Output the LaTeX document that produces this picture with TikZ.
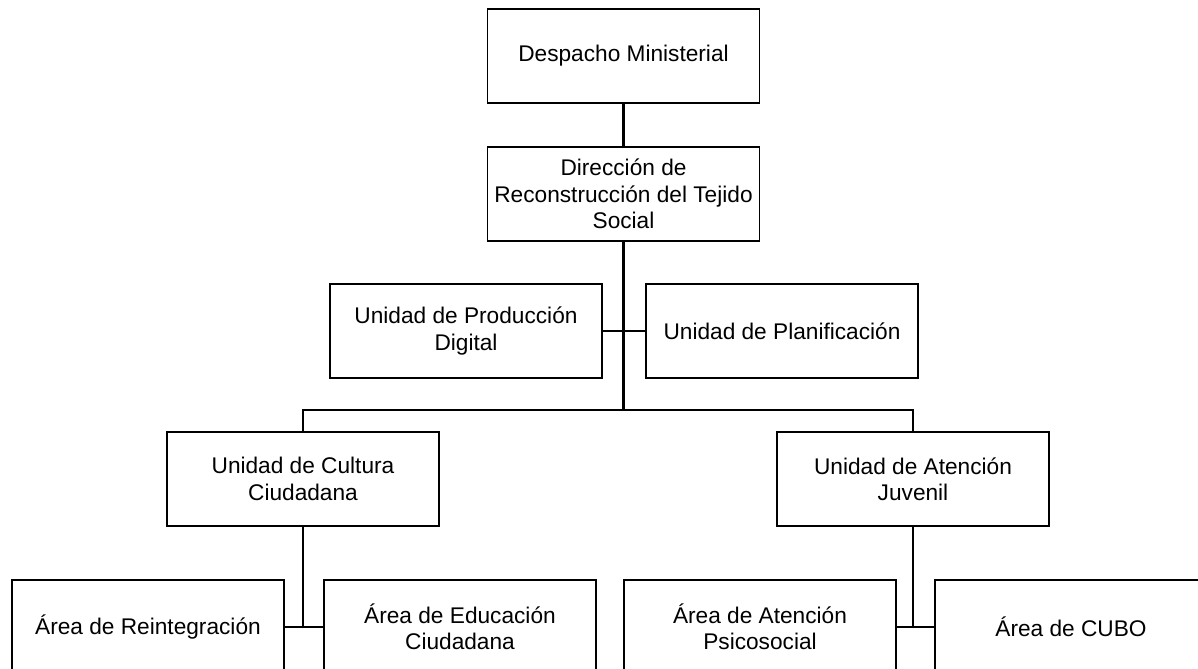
\documentclass[tikz,border=0pt]{standalone}
\usepackage{fontspec}
\setmainfont{Liberation Sans}
\usepackage{tikz}

\begin{document}
\begin{tikzpicture}[auto,
    unit/.style={draw, line width=0.8pt, minimum width=5.44cm, minimum height=1.88cm,
      inner sep=0pt, align=center, font=\fontsize{12.9}{15}\selectfont},
    link/.style={line width=1.3pt}]
    \useasboundingbox (0, 0) rectangle (23.96, 13.36);
    \node[unit] (desp) at (12.47, 12.24) {Despacho Ministerial};
    \node[unit] (dir) at (12.47, 9.48) {Dirección de\\Reconstrucción del Tejido\\Social};
    \node[unit] (prod) at (9.32, 6.74) {Unidad de Producción\\Digital};
    \node[unit] (plan) at (15.64, 6.74) {Unidad de Planificación};
    \node[unit] (cult) at (6.06, 3.78) {Unidad de Cultura\\Ciudadana};
    \node[unit] (juv) at (18.26, 3.78) {Unidad de Atención\\Juvenil};
    \node[unit] (reint) at (2.96, 0.82) {Área de Reintegración};
    \node[unit] (educ) at (9.20, 0.82) {Área de Educación\\Ciudadana};
    \node[unit] (psico) at (15.20, 0.82) {Área de Atención\\Psicosocial};
    \node[unit] (cubo) at (21.42, 0.82) {Área de CUBO};
    \coordinate (bus) at (12.47, 5.16);
    \coordinate (cj) at (6.06, 0.82);
    \coordinate (jj) at (18.26, 0.82);
    \draw [link] (desp) to (dir);
    \draw [link] (dir) to (bus);
    \draw [link] (prod) to (plan);
    \draw [link] (cult) |- (bus) -| (juv);
    \draw [link] (cult) to (cj);
    \draw [link] (reint) to (educ);
    \draw [link] (juv) to (jj);
    \draw [link] (psico) to (cubo);
  \end{tikzpicture}
\end{document}
